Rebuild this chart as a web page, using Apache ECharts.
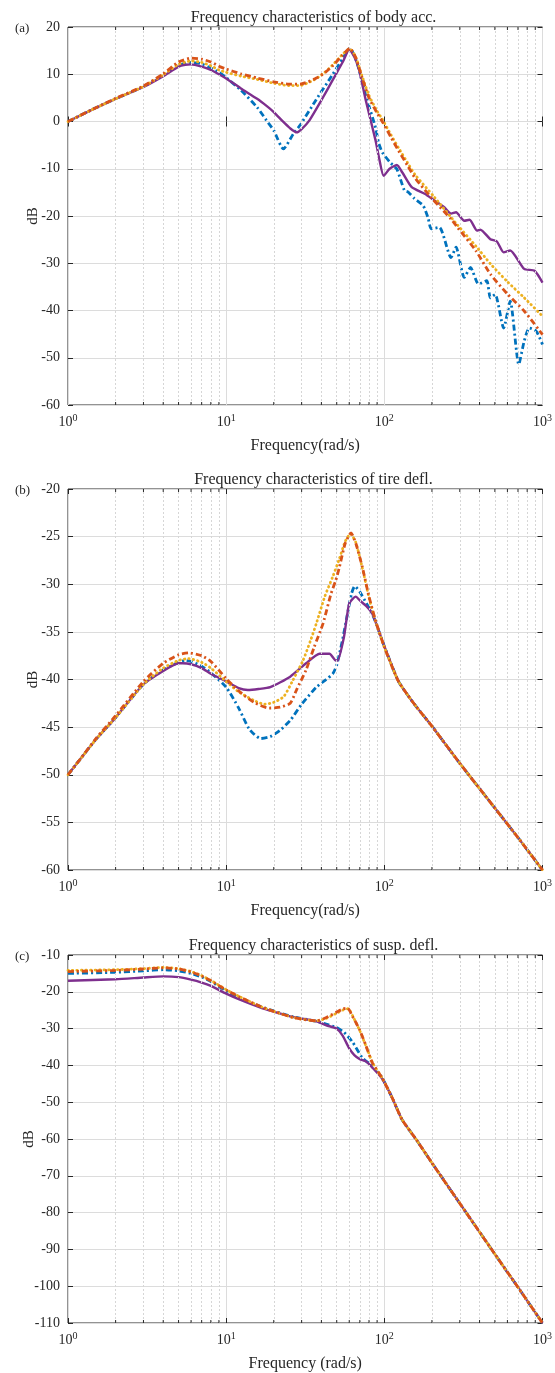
<!DOCTYPE html>
<html><head><meta charset="utf-8">
<script src="https://cdn.jsdelivr.net/npm/echarts@6/dist/echarts.min.js"></script>
<style>html,body{margin:0;padding:0;background:#fff}#c{width:555px;height:1373px}</style>
</head><body><div id="c"></div>
<script>
// ---------------- DATA ----------------
const chartTitles = ['Frequency characteristics of body acc.', 'Frequency characteristics of tire defl.', 'Frequency characteristics of susp. defl.'];
const panelTags = ['(a)', '(b)', '(c)'];
const xNames = ['Frequency(rad/s)', 'Frequency(rad/s)', 'Frequency (rad/s)'];
const yName = 'dB';
const yRanges = [[-60, 20, 10], [-60, -20, 5], [-110, -10, 10]];
const minorTicks = [2,3,4,5,6,7,8,9,20,30,40,50,60,70,80,90,200,300,400,500,600,700,800,900];

// (a) body acceleration  [rad/s, dB]
const aBlue = [[1,0],[1.5,2.9],[2,4.8],[3,7.4],[4,9.9],[5,11.9],[6,12.5],[7,12.2],[8,11.3],[9,10.4],[10,9.3],[12.4,6.6],[15.7,3.0],[18,0.2],[20,-1.9],[23,-5.8],[26.6,-2.6],[29.3,-0.8],[37.2,4.7],[47.2,10],[55,13.5],[60.5,15.5],[65,13.8],[69.3,10.9],[76.3,5.5],[88,-1.3],[92,-4.5],[97,-6.5],[109,-8.7],[120,-10.1],[134,-14.6],[141,-14.9],[155,-16.3],[176,-17.8],[189,-20.4],[198,-22.7],[223,-22.4],[264,-28.8],[284,-26.6],[320,-33],[351,-30.9],[394,-34.4],[444,-33.7],[468,-37.3],[502,-36.6],[568,-43.7],[625,-38],[708,-51.4],[766,-46.5],[825,-43.7],[914,-44.4],[1000,-47.2]];
const aPurple = [[1,0],[1.5,2.9],[2,4.8],[3,7.3],[4,9.6],[5,11.6],[5.5,12],[6,12.1],[7,11.6],[8,10.9],[9,10],[10,9.1],[12.4,7],[15.7,4.8],[18,3.3],[20,2],[23,-0.1],[25.3,-1.4],[27.9,-2.3],[30,-1.6],[33.7,0.3],[40,4.5],[47.2,8.8],[55,12.8],[60,15.3],[65,13.5],[69.3,10.9],[76.3,4.5],[88,-4],[93,-8],[99,-11.5],[108,-10],[120,-9.2],[130,-10.8],[149,-13.9],[180,-15.3],[207,-16.7],[238,-18.1],[264,-19.5],[284,-19.2],[320,-21],[346,-20.8],[386,-23.1],[405,-22.9],[468,-24.9],[515,-25.4],[568,-27.7],[625,-27.3],[766,-31.2],[891,-31.6],[1000,-34.1]];
const aOrange = [[1,0],[1.5,2.9],[2,4.9],[3,7.5],[4,10.1],[5,12.6],[6,13.4],[7,13.2],[8,12.6],[9,11.7],[10,11.1],[12.4,10.1],[15.7,9.2],[20,8.4],[25,7.9],[29.3,7.9],[33,8.4],[37.2,9.2],[42,10.3],[47.2,11.8],[54.3,14],[60.5,15.5],[66,13.5],[72,9.5],[80,5],[90,1.8],[97,0],[110,-3.3],[123,-6.2],[140,-9.3],[156,-11.9],[198,-16.1],[265,-20.7],[290,-22.4],[380,-27.4],[468,-32.3],[600,-36.5],[766,-40.1],[1000,-45.1]];
const aYellow = [[1,0],[1.5,2.9],[2,4.8],[3,7.4],[4,9.9],[5,12.1],[6,12.8],[7,12.5],[8,11.8],[9,10.9],[10,10.4],[12.4,9.6],[15.7,8.9],[20,8.1],[25,7.6],[29.3,7.6],[33,8.2],[37.2,9.1],[42,10.4],[47.2,12],[54.3,14.2],[60.5,15.4],[66,13.6],[72,9.8],[80,5.5],[90,2.2],[97,0.5],[110,-2.8],[123,-5.6],[140,-8.7],[156,-11.2],[207,-16],[290,-21.9],[380,-26.4],[468,-30.1],[600,-33.9],[766,-37.3],[1000,-41.2]];

// (b) tire deflection
const bBlue = [[1,-50],[1.19,-48.4],[1.5,-46.3],[2,-44],[3,-40.5],[4,-39],[5,-38.2],[5.5,-38],[6,-38.1],[7,-38.6],[8,-39.3],[10,-40.8],[12,-43],[14,-45.2],[16.5,-46.2],[19,-46],[22,-45.3],[25.4,-44.3],[30,-42.6],[37.2,-40.8],[42.9,-40],[47.2,-39.4],[50,-38.5],[54.3,-35.9],[58.5,-33.1],[62,-31],[65,-30.2],[70,-30.8],[77,-32],[84,-33.1],[100,-36.5],[122,-40.1],[140,-41.6],[160,-42.9],[200,-44.9],[300,-48.8],[500,-53.5],[700,-56.6],[1000,-60]];
const bPurple = [[1,-50],[1.19,-48.4],[1.5,-46.3],[2,-44],[3,-40.5],[4,-39.1],[5,-38.3],[5.3,-38.3],[6,-38.4],[7,-38.8],[8,-39.4],[10,-40.2],[12,-40.9],[13.7,-41.1],[16,-41],[19,-40.8],[25.4,-39.7],[32,-38.3],[39,-37.3],[45,-37.3],[49.3,-38],[50.6,-38],[55.6,-35.5],[60,-32],[66,-31.3],[70,-31.7],[77,-32.3],[84,-33.1],[100,-36.5],[122,-40.1],[140,-41.6],[160,-42.9],[200,-44.9],[300,-48.8],[500,-53.5],[700,-56.6],[1000,-60]];
const bOrange = [[1,-50],[1.19,-48.4],[1.5,-46.2],[2,-43.8],[3,-40.2],[4,-38.3],[5,-37.4],[5.8,-37.2],[7,-37.5],[8,-38.1],[10,-39.9],[12,-41.2],[15,-42.4],[18.7,-43],[22,-42.9],[25.4,-42.5],[28,-41],[32,-39],[36,-36.6],[41,-34.1],[46,-31],[49.3,-29.6],[52,-28.2],[56.6,-25.7],[61.6,-24.6],[66,-25.7],[72.6,-28.2],[80,-31.3],[88,-33.8],[100,-36.6],[122,-40.1],[140,-41.6],[160,-42.9],[200,-44.9],[300,-48.8],[500,-53.5],[700,-56.6],[1000,-60]];
const bYellow = [[1,-50],[1.19,-48.4],[1.5,-46.3],[2,-44],[3,-40.5],[4,-38.8],[5,-38],[5.8,-37.8],[7,-38.2],[8,-38.8],[10,-40.2],[12,-41.3],[15,-42.2],[17.5,-42.6],[20,-42.4],[23.1,-41.8],[26,-40.3],[30.6,-38],[34,-36],[37.2,-34.1],[42,-31.3],[47.2,-29.2],[52,-27.3],[56.6,-25.5],[61,-24.7],[66,-25.6],[72.6,-28.3],[80,-31.4],[88,-33.9],[100,-36.6],[122,-40.1],[140,-41.6],[160,-42.9],[200,-44.9],[300,-48.8],[500,-53.5],[700,-56.6],[1000,-60]];

// (c) suspension deflection
const cBlue = [[1,-15],[2,-14.7],[3,-14.3],[4,-14],[5,-14.3],[6,-15],[7,-16],[8,-17.2],[10,-19.8],[12,-21.6],[16.5,-24],[20,-25.2],[26.6,-26.8],[37.2,-28],[43,-28.8],[49.8,-29.7],[55.6,-31],[62.8,-33.6],[72.8,-38],[84,-40.2],[96.5,-43.3],[111.6,-48.6],[129.3,-54.7],[160,-60.3],[200,-66.5],[300,-77.5],[500,-91.3],[700,-100.3],[1000,-110]];
const cPurple = [[1,-17],[2,-16.6],[3,-16.1],[4,-15.8],[5,-16],[6,-16.7],[7,-17.5],[8,-18.4],[10,-20.5],[12,-22],[16.5,-24.3],[20,-25.4],[26.6,-26.9],[37.2,-28],[43,-29.1],[49.8,-30],[54.5,-31.9],[60,-35.4],[64.6,-37.2],[70,-38.3],[76.3,-38.9],[84,-40.6],[96.5,-43.5],[111.6,-48.6],[129.3,-54.7],[160,-60.3],[200,-66.5],[300,-77.5],[500,-91.3],[700,-100.3],[1000,-110]];
const cOrange = [[1,-14.5],[2,-14.2],[3,-13.8],[4,-13.5],[5,-13.8],[6,-14.6],[7,-15.7],[8,-17],[10,-19.5],[12,-21.3],[16.5,-24],[20,-25.3],[26.6,-27],[37.2,-27.9],[43,-27],[50,-25.5],[54.5,-24.7],[58.5,-24.4],[62.8,-26.6],[69.4,-30.1],[76.3,-34.5],[84,-39.3],[96.5,-43.3],[111.6,-48.6],[129.3,-54.7],[160,-60.3],[200,-66.5],[300,-77.5],[500,-91.3],[700,-100.3],[1000,-110]];
const cYellow = [[1,-14.2],[2,-14],[3,-13.7],[4,-13.4],[5,-13.7],[6,-14.5],[7,-15.6],[8,-16.9],[10,-19.4],[12,-21.2],[16.5,-24],[20,-25.3],[26.6,-27],[37.2,-27.9],[43,-27.2],[50,-25.8],[55,-24.9],[59,-24.6],[63.5,-26.8],[70,-30.6],[77,-35],[85,-39.6],[96.5,-43.3],[111.6,-48.6],[129.3,-54.7],[160,-60.3],[200,-66.5],[300,-77.5],[500,-91.3],[700,-100.3],[1000,-110]];

const panelData = [
  [aBlue, aPurple, aYellow, aOrange],
  [bBlue, bPurple, bYellow, bOrange],
  [cBlue, cPurple, cYellow, cOrange]
];

// ---------------- STYLE / LAYOUT ----------------
const F = '"Liberation Serif", "DejaVu Serif", serif';
const TXT = '#262626';
const gridBoxes = [{top: 27, height: 378}, {top: 489, height: 381}, {top: 955, height: 379}];
const dBGaps = [27, 27, 31];
const GL = 68, GR = 6;
const lineStyles = [
  {color: '#0072BD', width: 2.8, type: [6, 3, 2, 3]},
  {color: '#7E2F8E', width: 2.4, type: 'solid'},
  {color: '#EDB120', width: 2.8, type: [0.5, 4], cap: 'round'},
  {color: '#D95319', width: 2.8, type: [6, 3, 2, 3]}
];

const grid = [], xAxis = [], yAxis = [], series = [], title = [];
gridBoxes.forEach((g, i) => {
  grid.push({left: GL, right: GR, top: g.top, height: g.height, show: true, borderColor: TXT, borderWidth: 1, backgroundColor: 'transparent'});
  const xBase = {
    type: 'log', logBase: 10, min: 1, max: 1000, gridIndex: i,
    axisLine: {show: false},
    axisTick: {show: true, inside: true, length: 5, lineStyle: {color: TXT}}
  };
  xAxis.push(Object.assign({}, xBase, {
    position: 'bottom',
    name: xNames[i], nameLocation: 'middle', nameGap: 33, nameMoveOverlap: false,
    nameTextStyle: {fontFamily: F, fontSize: 16, color: TXT},
    splitLine: {show: true, lineStyle: {color: '#dcdcdc', width: 1}},
    axisLabel: {
      margin: 8,
      formatter: v => '{b|10}{s|' + Math.round(Math.log10(v)) + '}',
      rich: {b: {fontFamily: F, fontSize: 14, color: TXT}, s: {fontFamily: F, fontSize: 10, color: TXT, padding: [0, 0, 9, 0]}}
    }
  }));
  xAxis.push(Object.assign({}, xBase, {position: 'top', axisLabel: {show: false}, splitLine: {show: false}}));
  const r = yRanges[i];
  const yBase = {
    type: 'value', min: r[0], max: r[1], interval: r[2], gridIndex: i,
    axisLine: {show: false},
    axisTick: {show: true, inside: true, length: 5, lineStyle: {color: TXT}}
  };
  yAxis.push(Object.assign({}, yBase, {
    position: 'left',
    name: yName, nameLocation: 'middle', nameGap: dBGaps[i], nameRotate: 90, nameMoveOverlap: false,
    nameTextStyle: {fontFamily: F, fontSize: 15, color: TXT},
    splitLine: {show: true, lineStyle: {color: '#dcdcdc', width: 1}},
    axisLabel: {fontFamily: F, fontSize: 14, color: TXT, margin: 8}
  }));
  yAxis.push(Object.assign({}, yBase, {position: 'right', axisLabel: {show: false}, splitLine: {show: false}}));

  // minor (dashed) grid lines
  series.push({
    type: 'line', xAxisIndex: 2 * i, yAxisIndex: 2 * i, data: [], z: 1, silent: true,
    markLine: {silent: true, symbol: 'none', animation: false, label: {show: false},
      lineStyle: {type: [2, 2], color: '#d6d6d6', width: 1},
      data: minorTicks.map(v => ({xAxis: v}))}
  });
  // minor ticks on bottom & top box edges
  series.push({
    type: 'custom', xAxisIndex: 2 * i, yAxisIndex: 2 * i, silent: true, z: 20, animation: false,
    data: minorTicks.map(v => [v, r[0]]),
    renderItem: (params, api) => {
      const cs = params.coordSys;
      const x = api.coord([api.value(0), api.value(1)])[0];
      const st = {stroke: TXT, lineWidth: 1};
      return {type: 'group', children: [
        {type: 'line', shape: {x1: x, y1: cs.y + cs.height, x2: x, y2: cs.y + cs.height - 3}, style: st},
        {type: 'line', shape: {x1: x, y1: cs.y, x2: x, y2: cs.y + 3}, style: st}
      ]};
    }
  });
  panelData[i].forEach((d, k) => {
    series.push({
      type: 'line', xAxisIndex: 2 * i, yAxisIndex: 2 * i, data: d,
      showSymbol: false, symbol: 'none', smooth: 0.2, animation: false, z: 3 + k,
      lineStyle: lineStyles[k]
    });
  });
  title.push({text: chartTitles[i], left: GL + (555 - GL - GR) / 2, textAlign: 'center', top: g.top - 22,
    textStyle: {fontFamily: F, fontSize: 16, fontWeight: 'normal', color: TXT}});
  title.push({text: panelTags[i], left: 10, top: g.top - 10,
    textStyle: {fontFamily: F, fontSize: 13, fontWeight: 'normal', color: TXT}});
});

const chart = echarts.init(document.getElementById('c'), null, {renderer: 'canvas'});
chart.setOption({animation: false, backgroundColor: '#fff', title, grid, xAxis, yAxis, series});
</script></body></html>
